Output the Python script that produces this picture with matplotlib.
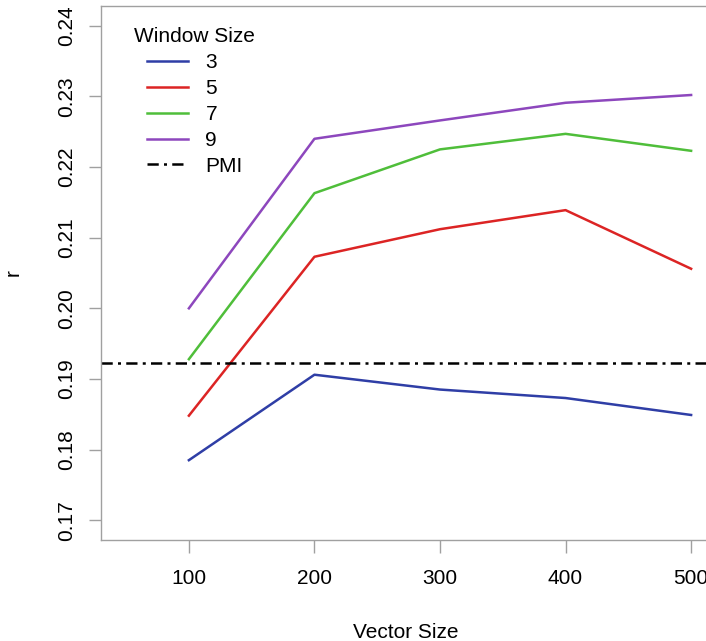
import matplotlib
matplotlib.use("Agg")
import matplotlib.pyplot as plt

plt.rcParams["font.family"] = ["Liberation Sans", "DejaVu Sans"]

vector_sizes = [100, 200, 300, 400, 500]
window_labels = ["3", "5", "7", "9"]
r_w3 = [0.1785, 0.1906, 0.1885, 0.1873, 0.1849]
r_w5 = [0.1848, 0.2073, 0.2112, 0.2139, 0.2056]
r_w7 = [0.1928, 0.2163, 0.2225, 0.2247, 0.2223]
r_w9 = [0.2000, 0.2240, 0.2266, 0.2291, 0.2302]
pmi_r = 0.1923

colors = ["#2f3ea6", "#dc2424", "#4fbe3a", "#8d47bd"]

fig = plt.figure(figsize=(7.06, 6.41), dpi=100)
# plot region runs past the right edge, like the cropped original
ax = fig.add_axes([101 / 706, 101 / 641, 678 / 706, 534 / 641])

for ys, lab, c in zip([r_w3, r_w5, r_w7, r_w9], window_labels, colors):
    ax.plot(vector_sizes, ys, color=c, lw=1.8, label=lab)
ax.axhline(pmi_r, color="black", lw=1.8, dashes=(4.5, 2.1, 1.2, 2.1), label="PMI")

# R-style 4% padding
ax.set_xlim(30, 570)
ax.set_ylim(0.1672, 0.2428)
ax.set_xticks(vector_sizes)
ax.set_yticks([0.17, 0.18, 0.19, 0.20, 0.21, 0.22, 0.23, 0.24])
ax.set_yticklabels(["%.2f" % v for v in ax.get_yticks()], rotation=90, va="center")

for s in ax.spines.values():
    s.set_color("#a0a0a0")
    s.set_linewidth(1)
ax.tick_params(direction="out", length=9, width=1, color="#a0a0a0", labelsize=15)
ax.tick_params(axis="y", pad=9)
ax.tick_params(axis="x", pad=12)

ax.set_xlabel("Vector Size", fontsize=15)
ax.xaxis.set_label_coords(0.45, -0.155)
ax.set_ylabel("r", fontsize=15, labelpad=25)

ax.legend(title="Window Size", title_fontsize=15, fontsize=15, frameon=False,
          loc="upper left", bbox_to_anchor=(124 / 706, 1 - 17 / 641),
          bbox_transform=fig.transFigure, borderpad=0,
          handlelength=1.95, handletextpad=0.85, labelspacing=0.33)

fig.savefig("out.png", dpi=100)
